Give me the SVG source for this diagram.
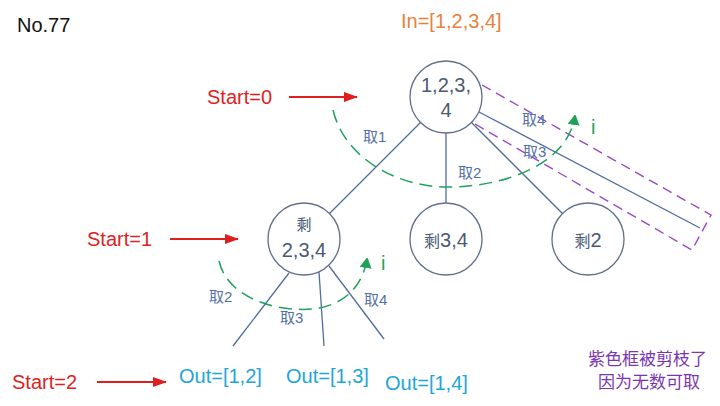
<svg xmlns="http://www.w3.org/2000/svg" width="720" height="406" viewBox="0 0 720 406">
<defs>
<style>
text{font-family:"Liberation Sans","Noto Sans CJK SC",sans-serif;}
.node{fill:#fff;stroke:#5F6E8A;stroke-width:1.3;}
.nt{fill:#4A5A75;text-anchor:middle;}
.edge{stroke:#4F6CA3;stroke-width:1.3;fill:none;}
.lbl{fill:#5470A6;font-size:15px;}
.red{fill:#E01E1E;font-size:20px;}
.rarrow{stroke:#E01E1E;stroke-width:2;marker-end:url(#ra);}
.garc{stroke:#1FA15A;stroke-width:1.5;fill:none;stroke-dasharray:13 7;marker-end:url(#ga);}
.out{fill:#21A6D8;font-size:20px;}
.purple{fill:#7B35B0;font-size:17px;}
</style>
<marker id="ra" markerWidth="14" markerHeight="10" refX="13" refY="5" orient="auto" markerUnits="userSpaceOnUse">
<path d="M0,0 L14,5 L0,10 Z" fill="#E01E1E"/>
</marker>
<marker id="ga" markerWidth="10" markerHeight="12" refX="9" refY="6" orient="auto" markerUnits="userSpaceOnUse">
<path d="M0,0 L11,6 L0,12 Z" fill="#1FA15A"/>
</marker>
</defs>
<rect width="720" height="406" fill="#fff"/>

<text x="17" y="32" font-size="20" fill="#111">No.77</text>
<text x="401" y="28" font-size="20" fill="#E8823D">In=[1,2,3,4]</text>

<g id="connectors">
<line class="edge" x1="420.5" y1="122.5" x2="329.5" y2="213.5"/>
<line class="edge" x1="446" y1="133" x2="446" y2="203"/>
<line class="edge" x1="471.5" y1="122.5" x2="562.5" y2="213.5"/>
<line class="edge" x1="479" y1="112" x2="700" y2="228"/>
<line class="edge" x1="289" y1="273" x2="233" y2="346"/>
<line class="edge" x1="319" y1="272" x2="324" y2="346"/>
<line class="edge" x1="329" y1="266" x2="384" y2="339"/>
</g>

<g id="pruned-box">
<polygon points="482,85 711,215 692,250 463,117" fill="none" stroke="#9A48C4" stroke-width="1.4" stroke-dasharray="10 6"/>
</g>

<g id="arcs">
<path class="garc" d="M333,110 C345,160 400,188 450,187 C510,186 568,162 575,116"/>
<path class="garc" d="M219,261 C228,300 280,312 313,309 C340,306 362,290 367,259"/>
<text x="591" y="134" font-size="20" fill="#1FA15A">i</text>
<text x="381" y="270" font-size="20" fill="#1FA15A">i</text>
</g>

<g id="node-root">
<circle class="node" cx="446" cy="97" r="36"/>
<text class="nt" x="446" y="92" font-size="20">1,2,3,</text>
<text class="nt" x="446" y="117" font-size="20">4</text>
</g>
<g id="node-left">
<circle class="node" cx="304" cy="239" r="36"/>
<text class="nt" x="304" y="230" font-size="15">剩</text>
<text class="nt" x="304" y="257" font-size="20">2,3,4</text>
</g>
<g id="node-mid">
<circle class="node" cx="446" cy="239" r="36"/>
<text class="nt" x="446" y="247" font-size="20"><tspan font-size="16">剩</tspan>3,4</text>
</g>
<g id="node-right">
<circle class="node" cx="588" cy="239" r="36"/>
<text class="nt" x="588" y="247" font-size="20"><tspan font-size="16">剩</tspan>2</text>
</g>

<g id="labels">
<text class="lbl" x="363" y="142">取1</text>
<text class="lbl" x="458" y="178">取2</text>
<text class="lbl" x="522" y="125">取4</text>
<text class="lbl" x="523" y="157">取3</text>
<text class="lbl" x="209" y="302">取2</text>
<text class="lbl" x="280" y="323">取3</text>
<text class="lbl" x="364" y="305">取4</text>
</g>

<g id="starts">
<text class="red" x="207" y="104">Start=0</text>
<line class="rarrow" x1="289" y1="97" x2="357" y2="97"/>
<text class="red" x="87" y="246">Start=1</text>
<line class="rarrow" x1="170" y1="239" x2="238" y2="239"/>
<text class="red" x="12" y="389">Start=2</text>
<line class="rarrow" x1="97" y1="382" x2="166" y2="382"/>
</g>

<g id="outputs">
<text class="out" x="179" y="383">Out=[1,2]</text>
<text class="out" x="286" y="383">Out=[1,3]</text>
<text class="out" x="385" y="390">Out=[1,4]</text>
</g>

<g id="note">
<text class="purple" x="588" y="365">紫色框被剪枝了</text>
<text class="purple" x="598" y="388">因为无数可取</text>
</g>
</svg>
